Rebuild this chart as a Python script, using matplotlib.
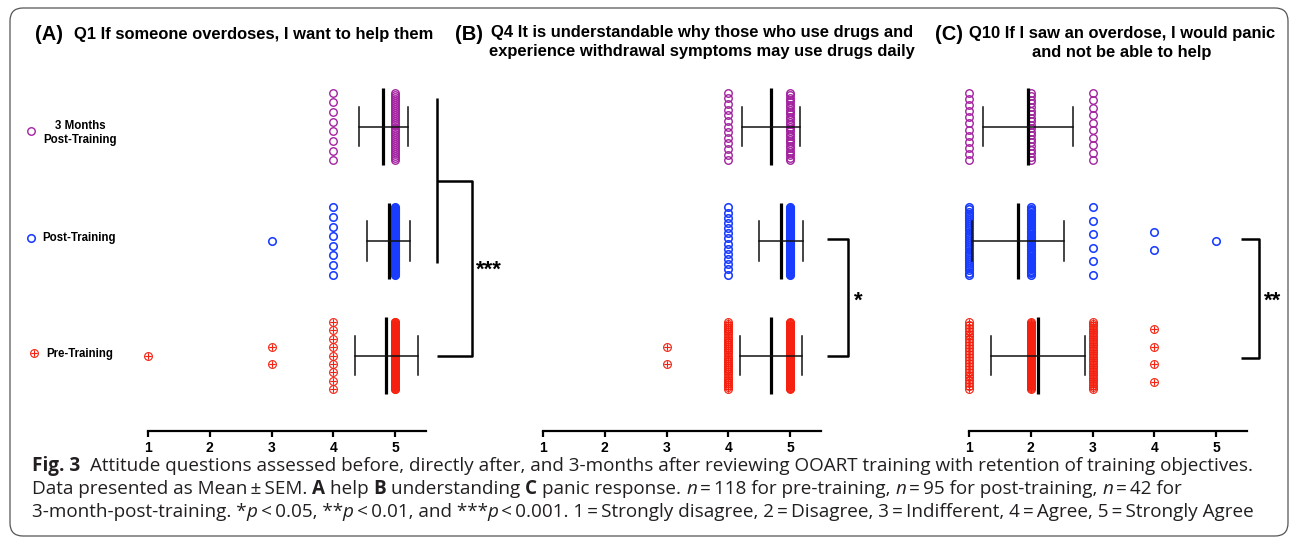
import numpy as np
import matplotlib
matplotlib.use("Agg")
import matplotlib.pyplot as plt
from matplotlib.path import Path
from matplotlib.patches import FancyBboxPatch
from matplotlib.lines import Line2D
from matplotlib.transforms import IdentityTransform

W, H, DPI = 1295, 544, 100

# ---------------- data ----------------
likert_values = [1, 2, 3, 4, 5]
tick_labels = ["1", "2", "3", "4", "5"]
groups = ["Pre-Training", "Post-Training", "3 Months\nPost-Training"]
panel_letters = ["(A)", "(B)", "(C)"]
panel_titles = [
    "Q1 If someone overdoses, I want to help them",
    "Q4 It is understandable why those who use drugs and\nexperience withdrawal symptoms may use drugs daily",
    "Q10 If I saw an overdose, I would panic\nand not be able to help",
]
# number of respondents choosing each Likert value 1..5
q1_pre = [1, 0, 2, 9, 106]
q1_post = [0, 0, 1, 8, 86]
q1_3mo = [0, 0, 0, 8, 34]
q4_pre = [0, 0, 2, 33, 83]
q4_post = [0, 0, 0, 14, 81]
q4_3mo = [0, 0, 0, 13, 29]
q10_pre = [24, 60, 30, 4, 0]
q10_post = [33, 53, 6, 2, 1]
q10_3mo = [12, 20, 10, 0, 0]
significance = ["***", "*", "**"]

panels = [[q1_pre, q1_post, q1_3mo],
          [q4_pre, q4_post, q4_3mo],
          [q10_pre, q10_post, q10_3mo]]

# ---------------- style / layout ----------------
group_colors = ["#F5200F", "#1A3CFF", "#A2229F"]
X1_PX = [148, 543, 969]
UNIT_X = 61.75
ROW0_PX = 355.5
UNIT_Y = 114.5
XLIM = (0.3, 5.6)
YLIM = (-0.66, 2.5)
HALF_SPAN = 0.294
MAX_GAP = 0.152
MEAN_HALF = 0.333
CAP_HALF = 0.171

plt.rcParams["font.family"] = ["Liberation Sans", "DejaVu Sans"]

fig = plt.figure(figsize=(W / DPI, H / DPI), dpi=DPI)


def fx(px):
    return px / W


def fy(py):
    return 1 - py / H


circle = Path.unit_circle()
plus = Path([(-0.8, 0), (0.8, 0), (0, -0.8), (0, 0.8)],
            [Path.MOVETO, Path.LINETO, Path.MOVETO, Path.LINETO])
cross_circle = Path.make_compound_path(circle, plus)

marker_kw = [
    dict(marker=cross_circle, ms=5.6, mew=0.8, mfc="none"),
    dict(marker="o", ms=5.4, mew=1.15, mfc="none"),
    dict(marker="o", ms=5.4, mew=1.0, mfc="none"),
]

axes = []
for k, counts_list in enumerate(panels):
    left_px = X1_PX[k] - (1 - XLIM[0]) * UNIT_X
    width_px = (XLIM[1] - XLIM[0]) * UNIT_X
    bottom_px = ROW0_PX - YLIM[0] * UNIT_Y
    top_px = ROW0_PX - YLIM[1] * UNIT_Y
    ax = fig.add_axes([fx(left_px), fy(bottom_px), width_px / W, (bottom_px - top_px) / H])
    ax.set_xlim(*XLIM)
    ax.set_ylim(*YLIM)
    ax.patch.set_visible(False)
    for s in ["left", "top", "right"]:
        ax.spines[s].set_visible(False)
    ax.spines["bottom"].set_bounds(1, 5.5)
    ax.spines["bottom"].set_linewidth(1.6)
    ax.set_yticks([])
    ax.set_xticks(likert_values)
    ax.set_xticklabels(tick_labels, fontsize=10, fontweight="bold")
    ax.tick_params(axis="x", direction="out", length=4, width=1.6, pad=3)
    axes.append(ax)

    for r, counts in enumerate(counts_list):
        col = group_colors[r]
        for v, n in zip(likert_values, counts):
            if n == 0:
                continue
            gap = min(MAX_GAP, 2 * HALF_SPAN / (n - 1)) if n > 1 else 0.0
            offs = (np.arange(n) - (n - 1) / 2) * gap
            ax.plot(np.full(n, v), r + offs, ls="none", color=col, mec=col,
                    clip_on=False, zorder=2, **marker_kw[r])
        data = np.repeat(likert_values, counts)
        m, sd = data.mean(), data.std(ddof=1)
        ax.plot([m, m], [r - MEAN_HALF, r + MEAN_HALF], color="black", lw=2.3,
                solid_capstyle="butt", zorder=4, clip_on=False)
        ax.plot([m - sd, m + sd], [r, r], color="#111111", lw=1.1, zorder=4, clip_on=False)
        for e in (m - sd, m + sd):
            ax.plot([e, e], [r - CAP_HALF, r + CAP_HALF], color="#111111", lw=1.1,
                    zorder=4, clip_on=False)

# ---------------- significance brackets ----------------
bk = dict(color="black", lw=1.8, clip_on=False, solid_capstyle="butt", zorder=5)
star_kw = dict(fontsize=16, fontweight="bold", ha="left", va="center_baseline")
# (A) nested bracket: (3 months + post) vs pre
ax = axes[0]
xi, xo = 5.68, 6.25
top, bot = 2 + 0.245, 1 - 0.193
mid = (top + bot) / 2
ax.plot([xi, xi], [top, bot], **bk)
ax.plot([xi, xo, xo, xi], [mid, mid, 0, 0], **bk)
ax.text(xo + 0.06, mid / 2 + 0.0, significance[0], **star_kw)
# (B)
ax = axes[1]
xi, xo = 5.6, 5.94
ax.plot([xi, xo, xo, xi], [1.02, 1.02, 0, 0], **bk)
ax.text(xo + 0.1, 0.5, significance[1], **star_kw)
# (C)
ax = axes[2]
xi, xo = 5.40, 5.70
ax.plot([xi, xo, xo, xi], [1.02, 1.02, -0.02, -0.02], **bk)
ax.text(xo + 0.08, 0.5, significance[2], **star_kw)

# ---------------- legend on the left ----------------
leg_pos = [(34, 353, 46, 354, "left"), (31, 238, 42, 238, "left"), (31, 131, 80, 133, "center")]
for r, (mx, my, tx, ty, ha) in enumerate(leg_pos):
    col = group_colors[r]
    fig.add_artist(Line2D([fx(mx)], [fy(my)], transform=fig.transFigure, ls="none",
                          color=col, mec=col, **marker_kw[r]))
    fig.text(fx(tx), fy(ty), groups[r], fontsize=8.3, fontweight="bold", ha=ha,
             va="center", multialignment="center", linespacing=1.15)

# ---------------- titles ----------------
letter_pos = [(35, 35), (455, 35), (935, 35)]
title_pos = [(254, 35), (702, 42), (1122, 43)]
for k in range(3):
    fig.text(fx(letter_pos[k][0]), fy(letter_pos[k][1]), panel_letters[k], fontsize=14.5,
             fontweight="bold", ha="left", va="center")
    fig.text(fx(title_pos[k][0]), fy(title_pos[k][1]), panel_titles[k], fontsize=11.9,
             fontweight="bold", ha="center", va="center", multialignment="center",
             linespacing=1.3)

# ---------------- outer rounded frame ----------------
frame = FancyBboxPatch((10, H - 536), 1278, 528, boxstyle="round,pad=0,rounding_size=13",
                       transform=IdentityTransform(), fill=False, ec="#555555", lw=0.9)
fig.add_artist(frame)

# ---------------- caption ----------------
CAP_FAMILY = ["Open Sans", "DejaVu Sans"]
caption_lines = [
    [("Fig. 3", "b"), ("  Attitude questions assessed before, directly after, and 3-months after "
                       "reviewing OOART training with retention of training objectives.", "r")],
    [("Data presented as Mean\u2009\u00b1\u2009SEM. ", "r"), ("A", "b"), (" help ", "r"), ("B", "b"),
     (" understanding ", "r"), ("C", "b"), (" panic response. ", "r"), ("n", "i"),
     ("\u2009=\u2009118 for pre-training, ", "r"), ("n", "i"), ("\u2009=\u200995 for post-training, ", "r"),
     ("n", "i"), ("\u2009=\u200942 for", "r")],
    [("3-month-post-training. *", "r"), ("p", "i"), ("\u2009<\u20090.05, **", "r"), ("p", "i"),
     ("\u2009<\u20090.01, and ***", "r"), ("p", "i"),
     ("\u2009<\u20090.001. 1\u2009=\u2009Strongly disagree, 2\u2009=\u2009Disagree, 3\u2009=\u2009Indifferent, "
      "4\u2009=\u2009Agree, 5\u2009=\u2009Strongly Agree", "r")],
]
caption_baselines = [471, 494, 517]
CAP_LEFT = 32
CAP_TARGET_W = (1237 - 32) + (1277 - 32)   # combined width of caption lines 1 and 3

renderer = fig.canvas.get_renderer()


def style_kw(st, size):
    kw = dict(fontsize=size, family=CAP_FAMILY)
    if st == "b":
        kw["fontweight"] = "bold"
    if st == "i":
        kw["fontstyle"] = "italic"
    return kw


def text_w(s, st, size):
    t = fig.text(0, 0, s, **style_kw(st, size))
    w = t.get_window_extent(renderer).width
    t.remove()
    return w


def run_w(s, st, size):
    return text_w("|" + s + "|", st, size) - text_w("||", st, size)


def line_w(runs, size):
    return sum(run_w(s, st, size) for s, st in runs)


base = 10.0
cap_size = base * CAP_TARGET_W / (line_w(caption_lines[0], base) + line_w(caption_lines[2], base))

for runs, yb in zip(caption_lines, caption_baselines):
    x = CAP_LEFT
    for s, st in runs:
        stripped = s.lstrip(" ")
        lead = s[: len(s) - len(stripped)]
        off = run_w(lead, st, cap_size) if lead else 0.0
        fig.text(fx(x + off), fy(yb), stripped, va="baseline", ha="left",
                 color="#231f20", **style_kw(st, cap_size))
        x += run_w(s, st, cap_size)

fig.savefig("out.png", dpi=DPI)
